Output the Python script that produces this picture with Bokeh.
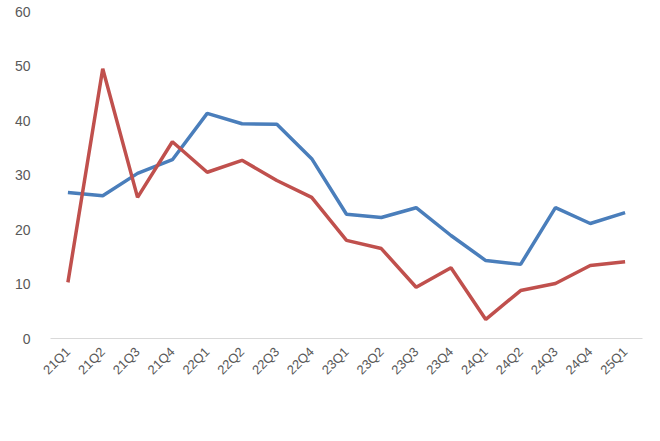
from math import pi
from bokeh.plotting import figure
from bokeh.models import FactorRange, Range1d, Legend, LegendItem, FixedTicker
from bokeh.embed import file_html
from bokeh.resources import INLINE

quarters = ["21Q1","21Q2","21Q3","21Q4","22Q1","22Q2","22Q3","22Q4","23Q1","23Q2","23Q3","23Q4","24Q1","24Q2","24Q3","24Q4","25Q1"]
gross = [26.8,26.2,30.3,32.8,41.3,39.4,39.3,33.0,22.8,22.2,24.0,18.9,14.3,13.6,24.0,21.1,23.1]
net = [10.3,49.5,25.9,36.1,30.5,32.7,29.0,25.9,18.0,16.5,9.4,13.0,3.5,8.8,10.1,13.4,14.1]

p = figure(frame_width=592, frame_height=327, x_range=FactorRange(*quarters, range_padding=0),
           y_range=Range1d(0, 60), output_backend="svg", toolbar_location=None,
           min_border_left=50, min_border_right=2, min_border_top=11, min_border_bottom=10)
p.outline_line_color = None
p.grid.grid_line_color = None
r1 = p.line(quarters, gross, line_color="#4a7ebb", line_width=3.5)
r2 = p.line(quarters, net, line_color="#c0504d", line_width=3.5)

p.yaxis.ticker = FixedTicker(ticks=[0,10,20,30,40,50,60])
for ax in (p.xaxis[0], p.yaxis[0]):
    ax.major_tick_line_color = None
    ax.minor_tick_line_color = None
    ax.major_label_text_color = "#595959"
    ax.major_label_text_font = "Liberation Sans"
    ax.major_label_text_font_size = "14px"
p.yaxis.axis_line_color = None
p.yaxis.major_label_standoff = 14
p.xaxis.axis_line_color = "#d9d9d9"
p.xaxis.major_label_orientation = pi/4
p.xaxis.major_label_text_font_size = "13px"

legend = Legend(items=[LegendItem(label="销售毛利率(%)", renderers=[r1]),
                       LegendItem(label="销售净利率(%)", renderers=[r2])],
                orientation="horizontal", location="center", border_line_color=None,
                label_text_font="Noto Sans CJK SC", label_text_font_size="12px",
                label_text_color="#595959", glyph_width=35, spacing=25, margin=4)
p.add_layout(legend, "below")

open("out.html", "w").write(file_html(p, INLINE))
